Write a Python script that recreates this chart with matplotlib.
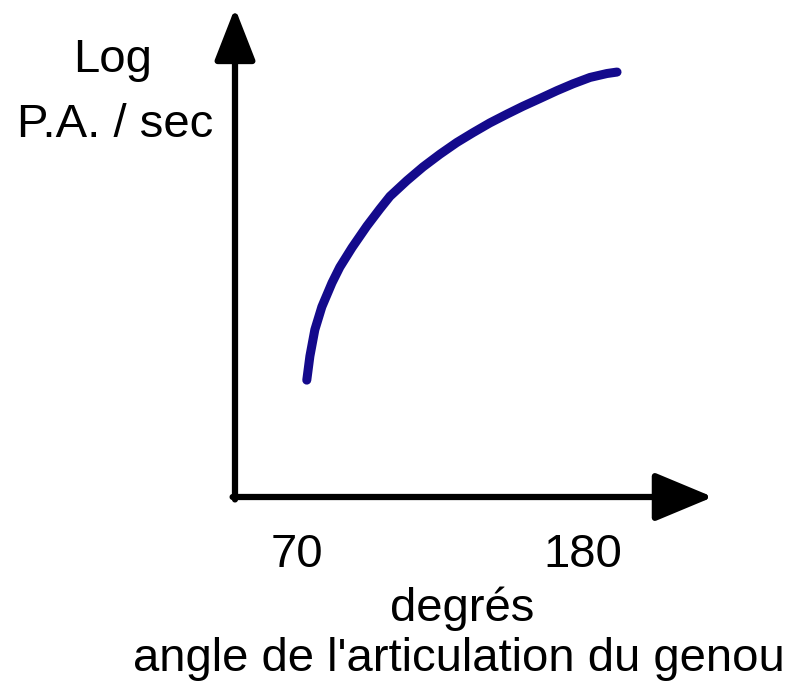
import matplotlib
matplotlib.use("Agg")
import matplotlib.pyplot as plt

# knee angle (degrees) vs log of action potential rate (arbitrary units)
angle = [73.8, 75.0, 76.9, 79.6, 83.5, 86.5, 91.2, 96.9, 101.9, 105.8, 112.3,
         118.5, 125.0, 131.5, 137.7, 144.2, 150.8, 156.9, 163.5, 170.0, 176.2,
         182.7, 189.2, 193.1]
log_rate = [23.9, 28.8, 34.2, 38.9, 43.8, 47.0, 51.0, 55.4, 58.9, 61.5, 64.7,
            67.5, 70.1, 72.5, 74.5, 76.5, 78.3, 79.9, 81.5, 83.1, 84.5,
            85.8, 86.6, 86.9]
tick_vals = [70, 180]
tick_labels = ["70", "180"]

plt.rcParams['font.family'] = ['Liberation Sans', 'DejaVu Sans']
FS = 34

W, H = 787, 685
fig = plt.figure(figsize=(W / 100, H / 100), dpi=100)
ax = fig.add_axes([235 / W, (H - 497) / H, 478 / W, 489 / H])
ax.set_xlim(46.2, 230)
ax.set_ylim(0, 100)
ax.patch.set_alpha(0)
for s in ax.spines.values():
    s.set_visible(False)
ax.set_yticks([])
ax.set_xticks(tick_vals)
ax.set_xticklabels(tick_labels, fontsize=FS)
ax.tick_params(axis='x', length=0, pad=26)

ax.plot(angle, log_rate, color='#140a8c', lw=6.5, solid_capstyle='round',
        solid_joinstyle='round')

# hand-drawn style axes with big arrowheads
ax.annotate('', xy=(0, 1.0), xytext=(0, -0.005), xycoords='axes fraction',
            arrowprops=dict(arrowstyle='-|>,head_length=3.2,head_width=1.25',
                            color='black', lw=4.5, shrinkA=0, shrinkB=0))
ax.annotate('', xy=(1.0, 0), xytext=(-0.005, 0), xycoords='axes fraction',
            arrowprops=dict(arrowstyle='-|>,head_length=3.6,head_width=1.5',
                            color='black', lw=4.5, shrinkA=0, shrinkB=0))

fig.text(113 / W, 1 - 60 / H, "Log", ha='center', va='center', fontsize=FS)
fig.text(115 / W, 1 - 125 / H, "P.A. / sec", ha='center', va='center', fontsize=FS)
fig.text(462 / W, 1 - 609 / H, "degrés", ha='center', va='center', fontsize=FS)
fig.text(459 / W, 1 - 659 / H, "angle de l'articulation du genou", ha='center',
         va='center', fontsize=FS)

fig.savefig("out.png", dpi=100, facecolor='white')
